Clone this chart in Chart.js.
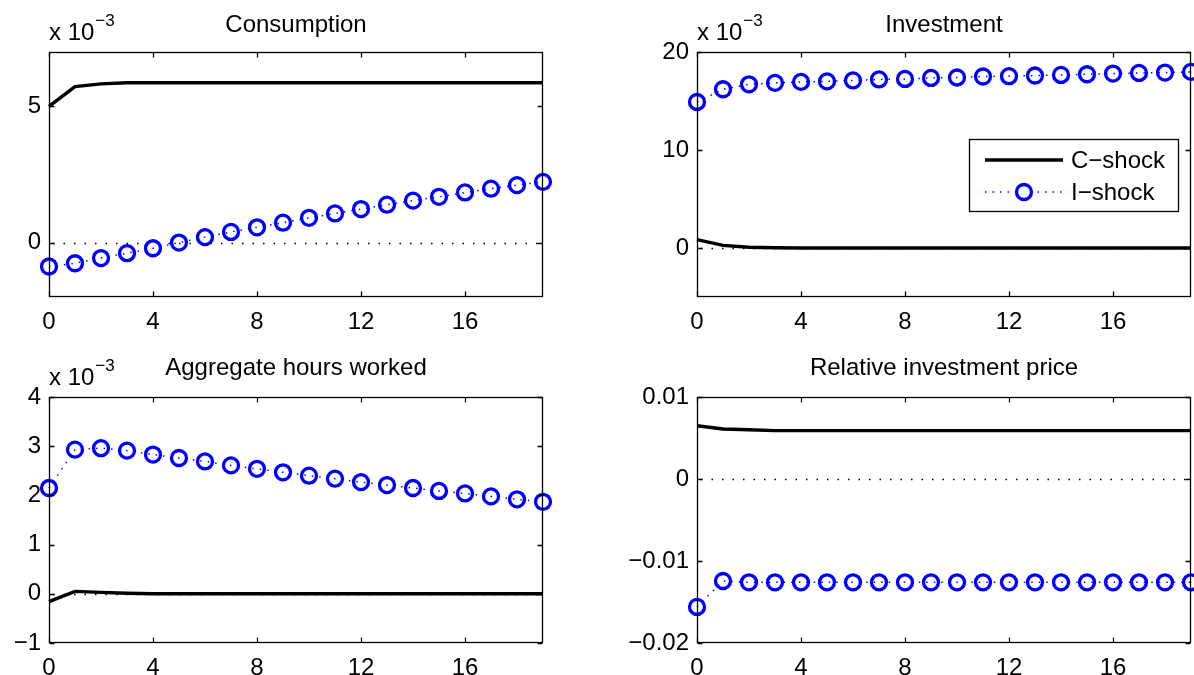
<!DOCTYPE html>
<html>
<head>
<meta charset="utf-8">
<script src="https://cdn.jsdelivr.net/npm/chart.js@4.4.0/dist/chart.umd.min.js"></script>
<style>
  html, body { margin: 0; padding: 0; background: #fff; }
  #wrap { position: relative; width: 1194px; height: 675px; overflow: hidden; }
  #wrap canvas { position: absolute; }
</style>
</head>
<body>
<div id="wrap">
  <canvas id="c1" width="597" height="337" style="left:0;top:0"></canvas>
  <canvas id="c2" width="597" height="337" style="left:597px;top:0"></canvas>
  <canvas id="c3" width="597" height="338" style="left:0;top:337px"></canvas>
  <canvas id="c4" width="597" height="338" style="left:597px;top:337px"></canvas>
</div>
<script>
// horizon (quarters)
const steps = [0,1,2,3,4,5,6,7,8,9,10,11,12,13,14,15,16,17,18,19]
const xTicks = [0,4,8,12,16]

// consumption, x 10^-3
const consC = [5.0,5.73,5.83,5.87,5.87,5.87,5.87,5.87,5.87,5.87,5.87,5.87,5.87,5.87,5.87,5.87,5.87,5.87,5.87,5.87]
const consI = [-0.88,-0.76,-0.57,-0.39,-0.21,0.0,0.20,0.39,0.56,0.73,0.91,1.07,1.23,1.39,1.54,1.68,1.84,1.98,2.11,2.23]
const consTicks = [0,5]

// investment, x 10^-3
const invC = [0.85,0.27,0.07,0.02,0.0,0.0,0.0,0.0,0.0,0.0,0.0,0.0,0.0,0.0,0.0,0.0,0.0,0.0,0.0,0.0]
const invI = [14.9,16.2,16.7,16.85,16.95,17.0,17.1,17.2,17.25,17.35,17.4,17.5,17.53,17.6,17.66,17.73,17.8,17.86,17.9,17.97]
const invTicks = [0,10,20]

// aggregate hours worked, x 10^-3
const hoursC = [-0.16,0.05,0.03,0.01,0.0,0.0,0.0,0.0,0.0,0.0,0.0,0.0,0.0,0.0,0.0,0.0,0.0,0.0,0.0,0.0]
const hoursI = [2.15,2.93,2.96,2.91,2.83,2.76,2.69,2.61,2.54,2.47,2.40,2.34,2.27,2.21,2.15,2.09,2.04,1.98,1.92,1.87]
const hoursTicks = [-1,0,1,2,3,4]

// relative investment price
const priceC = [0.0065,0.0061,0.0060,0.0059,0.0059,0.0059,0.0059,0.0059,0.0059,0.0059,0.0059,0.0059,0.0059,0.0059,0.0059,0.0059,0.0059,0.0059,0.0059,0.0059]
const priceI = [-0.0156,-0.01244,-0.0126,-0.0126,-0.0126,-0.0126,-0.0126,-0.0126,-0.0126,-0.0126,-0.0126,-0.0126,-0.0126,-0.0126,-0.0126,-0.0126,-0.0126,-0.0126,-0.0126,-0.0126]
const priceTicks = [-0.02,-0.01,0,0.01]

const seriesNames = ['C\u2212shock','I\u2212shock']

const FONT = '"Liberation Sans", Arial, Helvetica, sans-serif'
const FS = 24
const BLUE = '#0000ff'

function pts(ys){ return steps.map((x,i)=>({x:x,y:ys[i]})) }

function minus(v){
	let s = String(Math.round(v*1e6)/1e6)
	return s.replace('-','\u2212')
}

const matlabAxes = {
	id: 'matlabAxes',
	beforeDatasetsDraw(chart){
		const {ctx, chartArea:a, scales:{y}} = chart
		const y0 = Math.round(y.getPixelForValue(0)) + 0.5
		ctx.save()
		ctx.strokeStyle = '#000'
		ctx.lineWidth = 1.3
		ctx.setLineDash([1.5,9])
		ctx.beginPath()
		ctx.moveTo(a.left+4, y0); ctx.lineTo(a.right, y0)
		ctx.stroke()
		ctx.restore()
	},
	afterDatasetsDraw(chart){
		const {ctx, chartArea:a, scales:{x,y}} = chart
		const L = Math.round(a.left)+0.5, R = Math.round(a.right)-0.5
		const T = Math.round(a.top)+0.5, B = Math.round(a.bottom)-0.5
		ctx.save()
		ctx.strokeStyle = '#000'
		ctx.lineWidth = 1.3
		ctx.strokeRect(L, T, R-L, B-T)
		ctx.beginPath()
		x.ticks.forEach(t=>{
			const px = Math.round(x.getPixelForValue(t.value))+0.5
			ctx.moveTo(px,B); ctx.lineTo(px,B-5)
			ctx.moveTo(px,T); ctx.lineTo(px,T+5)
		})
		y.ticks.forEach(t=>{
			const py = Math.round(y.getPixelForValue(t.value))+0.5
			ctx.moveTo(L,py); ctx.lineTo(L+5,py)
			ctx.moveTo(R,py); ctx.lineTo(R-5,py)
		})
		ctx.stroke()
		ctx.restore()
	},
	afterDraw(chart, args, opts){
		const {ctx, chartArea:a} = chart
		ctx.save()
		ctx.fillStyle = '#000'
		ctx.textBaseline = 'alphabetic'
		ctx.font = FS + 'px ' + FONT
		ctx.textAlign = 'center'
		ctx.fillText(opts.title, (a.left+a.right)/2, a.top - opts.titleGap)
		if(opts.exponent){
			ctx.textAlign = 'left'
			const base = a.top - 12
			ctx.fillText('x 10', a.left, base)
			const w = ctx.measureText('x 10').width
			ctx.font = '17px ' + FONT
			ctx.fillText('\u22123', a.left + w + 1, base - 14)
		}
		if(opts.legend){
			const g = opts.legend
			ctx.lineWidth = 1.3
			ctx.strokeStyle = '#000'
			ctx.fillStyle = '#fff'
			ctx.fillRect(g.x, g.y, g.w, g.h)
			ctx.strokeRect(g.x+0.5, g.y+0.5, g.w, g.h)
			const ds = chart.data.datasets
			ds.forEach((d,i)=>{
				const ry = g.y + 21 + i*32
				ctx.save()
				ctx.strokeStyle = d.borderColor
				ctx.lineWidth = d.borderWidth
				ctx.setLineDash(d.borderDash || [])
				ctx.beginPath()
				ctx.moveTo(g.x+16, ry); ctx.lineTo(g.x+94, ry)
				ctx.stroke()
				if(d.pointRadius){
					ctx.setLineDash([])
					ctx.fillStyle = '#fff'
					ctx.strokeStyle = d.pointBorderColor
					ctx.lineWidth = d.pointBorderWidth
					ctx.beginPath()
					ctx.arc(g.x+55, ry, d.pointRadius, 0, Math.PI*2)
					ctx.fill()
					ctx.stroke()
				}
				ctx.restore()
				ctx.fillStyle = '#000'
				ctx.font = FS + 'px ' + FONT
				ctx.textAlign = 'left'
				ctx.textBaseline = 'middle'
				ctx.fillText(d.label, g.x+102, ry+1)
			})
		}
		ctx.restore()
	}
}

function makePanel(id, cData, iData, yMin, yMax, yTicks, box, plug){
	const canvas = document.getElementById(id)
	return new Chart(canvas.getContext('2d'), {
		type: 'line',
		data: {
			datasets: [{
				label: seriesNames[0],
				data: pts(cData),
				borderColor: '#000',
				borderWidth: 3.4,
				pointRadius: 0,
				tension: 0,
				clip: false
			},{
				label: seriesNames[1],
				data: pts(iData),
				borderColor: BLUE,
				borderWidth: 1.5,
				borderDash: [1.5,6],
				pointRadius: 7.5,
				pointBorderWidth: 3.3,
				pointBorderColor: BLUE,
				pointBackgroundColor: 'rgba(0,0,0,0)',
				tension: 0,
				clip: false
			}]
		},
		options: {
			responsive: false,
			animation: false,
			devicePixelRatio: 1,
			layout: { autoPadding: false, padding: { top: box.top, right: box.right, left: 0, bottom: 0 } },
			plugins: { legend: { display: false }, tooltip: { enabled: false }, matlabAxes: plug },
			scales: {
				x: {
					type: 'linear', min: 0, max: 19,
					afterBuildTicks: s => { s.ticks = xTicks.map(v=>({value:v})) },
					afterFit: s => { s.height = box.bottom; s.paddingLeft = 0; s.paddingRight = 0 },
					grid: { display: false, drawTicks: false },
					border: { display: false },
					ticks: { color: '#000', padding: 11, maxRotation: 0, autoSkip: false, font: { family: FONT, size: FS } }
				},
				y: {
					type: 'linear', min: yMin, max: yMax,
					afterBuildTicks: s => { s.ticks = yTicks.map(v=>({value:v})) },
					afterFit: s => { s.width = box.left; s.paddingTop = 0; s.paddingBottom = 0 },
					grid: { display: false, drawTicks: false },
					border: { display: false },
					ticks: { color: '#000', padding: 8, autoSkip: false, font: { family: FONT, size: FS }, callback: v => minus(v) }
				}
			}
		},
		plugins: [matlabAxes]
	})
}

window.onload = () => {
	makePanel('c1', consC, consI, -2, 7, consTicks,
		{top:52, right:54, left:49, bottom:40},
		{title:'Consumption', titleGap:20, exponent:true})
	makePanel('c2', invC, invI, -5, 20, invTicks,
		{top:52, right:3, left:100, bottom:40},
		{title:'Investment', titleGap:20, exponent:true, legend:{x:372, y:139, w:209, h:72}})
	makePanel('c3', hoursC, hoursI, -1, 4, hoursTicks,
		{top:60, right:54, left:49, bottom:32},
		{title:'Aggregate hours worked', titleGap:22, exponent:true})
	makePanel('c4', priceC, priceI, -0.02, 0.01, priceTicks,
		{top:60, right:3, left:100, bottom:32},
		{title:'Relative investment price', titleGap:22, exponent:false})
}
</script>
</body>
</html>
